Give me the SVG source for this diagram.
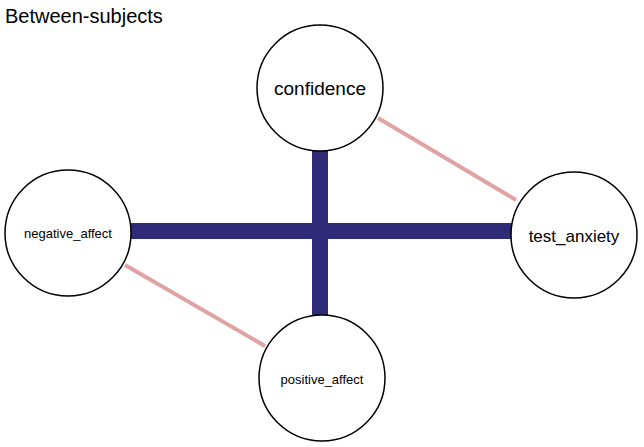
<svg xmlns="http://www.w3.org/2000/svg" width="644" height="447" viewBox="0 0 644 447">
<style>
.n{fill:#fff;stroke:#000;stroke-width:1.5}
.t{font-family:"Liberation Sans",Arial,sans-serif;text-anchor:middle;fill:#000}
.pos{stroke:#2e2a78;stroke-width:16}
.neg{stroke:#e0a3a3;stroke-width:4}
</style>
<rect width="644" height="447" fill="#fff"/>
<text x="5" y="23" font-family="Liberation Sans,Arial,sans-serif" font-size="20">Between-subjects</text>
<g id="connectors">
<line class="neg" x1="378" y1="118" x2="516" y2="200"/>
<line class="neg" x1="125" y1="265" x2="265" y2="346"/>
<line class="pos" x1="130" y1="231" x2="512" y2="231"/>
<line class="pos" x1="320" y1="150" x2="320" y2="316"/>
</g>
<g id="confidence"><circle class="n" cx="320" cy="88" r="63"/><text class="t" x="320" y="95" font-size="19">confidence</text></g>
<g id="test_anxiety"><circle class="n" cx="574" cy="235" r="63"/><text class="t" x="574" y="242" font-size="17">test_anxiety</text></g>
<g id="negative_affect"><circle class="n" cx="68" cy="233" r="63"/><text class="t" x="68" y="238" font-size="13">negative_affect</text></g>
<g id="positive_affect"><circle class="n" cx="322" cy="378" r="63"/><text class="t" x="322" y="384" font-size="13">positive_affect</text></g>
</svg>
